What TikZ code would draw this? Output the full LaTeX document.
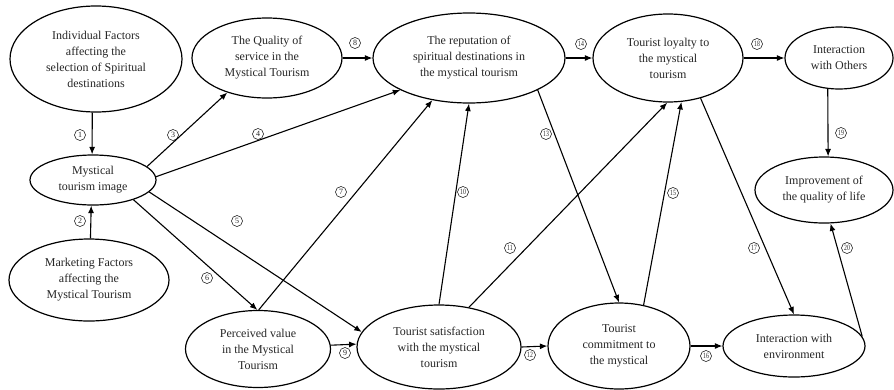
\documentclass[tikz,border=0pt]{standalone}
\usepackage{fontspec}
\setmainfont{Liberation Serif}
\usetikzlibrary{shapes.geometric,arrows.meta}
\begin{document}
\begin{tikzpicture}[x=1pt,y=-1pt,
  box/.style={ellipse,draw,line width=1.2pt,inner sep=0pt,align=center,text=black!85,
    font=\fontsize{12}{16}\selectfont},
  arr/.style={line width=1.1pt,-{Latex[length=7.5pt,width=6pt]}},
  num/.style={circle,draw,line width=0.5pt,inner sep=0pt,minimum size=11pt,text=black!85,
    font=\fontsize{8}{8}\selectfont}
]
\fill[white] (0,0) rectangle (894,389);
\useasboundingbox (0,0) rectangle (894,389);

% nodes
\node[box,minimum width=172pt,minimum height=106pt] (ind) at (96,59) {Individual Factors\\affecting the\\selection of Spiritual\\destinations};
\node[box,minimum width=150pt,minimum height=80pt] (qual) at (267,58) {The Quality of\\service in the\\Mystical Tourism};
\node[box,minimum width=192pt,minimum height=90pt] (rep) at (469,58) {The reputation of\\spiritual destinations in\\the mystical tourism};
\node[box,minimum width=150pt,minimum height=88pt] (loy) at (668,58) {Tourist loyalty to\\the mystical\\tourism};
\node[box,minimum width=108pt,minimum height=62pt] (oth) at (839,58) {Interaction\\with Others};
\node[box,minimum width=138pt,minimum height=66pt] (imp) at (824,190) {Improvement of\\the quality of life};
\node[box,minimum width=126pt,minimum height=50pt] (img) at (93,180) {Mystical\\tourism image};
\node[box,minimum width=160pt,minimum height=82pt] (mkt) at (89,280) {Marketing Factors\\affecting the\\Mystical Tourism};
\node[box,minimum width=145pt,minimum height=77pt] (per) at (258,349) {Perceived value\\in the Mystical\\Tourism};
\node[box,minimum width=164pt,minimum height=84pt] (sat) at (439,347) {Tourist satisfaction\\with the mystical\\tourism};
\node[box,minimum width=142pt,minimum height=86pt] (com) at (619,346) {Tourist\\commitment to\\the mystical};
\node[box,minimum width=142pt,minimum height=62pt] (env) at (794,346) {Interaction with\\environment};

% connectors
\draw[arr] (ind.-94) -- (img.92);
\draw[arr] (mkt.88) -- (img.-94);
\draw[arr] (img.14) -- (qual.221);
\draw[arr] (img.3) -- (rep.205);
\draw[arr] (img.-12) -- (sat.169);
\draw[arr] (img.-26) -- (per.91);
\draw[arr] (per.89) -- (rep.229);
\draw[arr] (qual.east) -- (rep.west);
\draw[arr] (per.3) -- (sat.178);
\draw[arr] (sat.north) -- (rep.south);
\draw[arr] (sat.53) -- (loy.-91);
\draw[arr] (sat.east) -- (com.west);
\draw[arr] (rep.-25) -- (com.north);
\draw[arr] (rep.east) -- (loy.west);
\draw[arr] (com.59) -- (loy.-73);
\draw[arr] (com.east) -- (env.west);
\draw[arr] (loy.-51) -- (env.north);
\draw[arr] (loy.east) -- (oth.west);
\draw[arr] (oth.250) -- (imp.83);
\draw[arr] (env.8) -- (imp.-79);

% labels
\node[num] (l1) at (80,135) {1};
\node[num] (l2) at (80,221) {2};
\node[num] (l3) at (173,135) {3};
\node[num] (l4) at (258,134) {4};
\node[num] (l5) at (237,221) {5};
\node[num] (l6) at (207,278) {6};
\node[num] (l7) at (341,192) {7};
\node[num] (l8) at (355,43) {8};
\node[num] (l9) at (345,353) {9};
\node[num] (l10) at (463,192) {\scalebox{0.72}[1]{10}};
\node[num] (l11) at (510,248) {\scalebox{0.72}[1]{11}};
\node[num] (l12) at (530,355) {\scalebox{0.72}[1]{12}};
\node[num] (l13) at (546,134) {\scalebox{0.72}[1]{13}};
\node[num] (l14) at (581,44) {\scalebox{0.72}[1]{14}};
\node[num] (l15) at (673,193) {\scalebox{0.72}[1]{15}};
\node[num] (l16) at (706,356) {\scalebox{0.72}[1]{16}};
\node[num] (l17) at (754,248) {\scalebox{0.72}[1]{17}};
\node[num] (l18) at (757,44) {\scalebox{0.72}[1]{18}};
\node[num] (l19) at (841,133) {\scalebox{0.72}[1]{19}};
\node[num] (l20) at (847,248) {\scalebox{0.72}[1]{20}};
\end{tikzpicture}
\end{document}
